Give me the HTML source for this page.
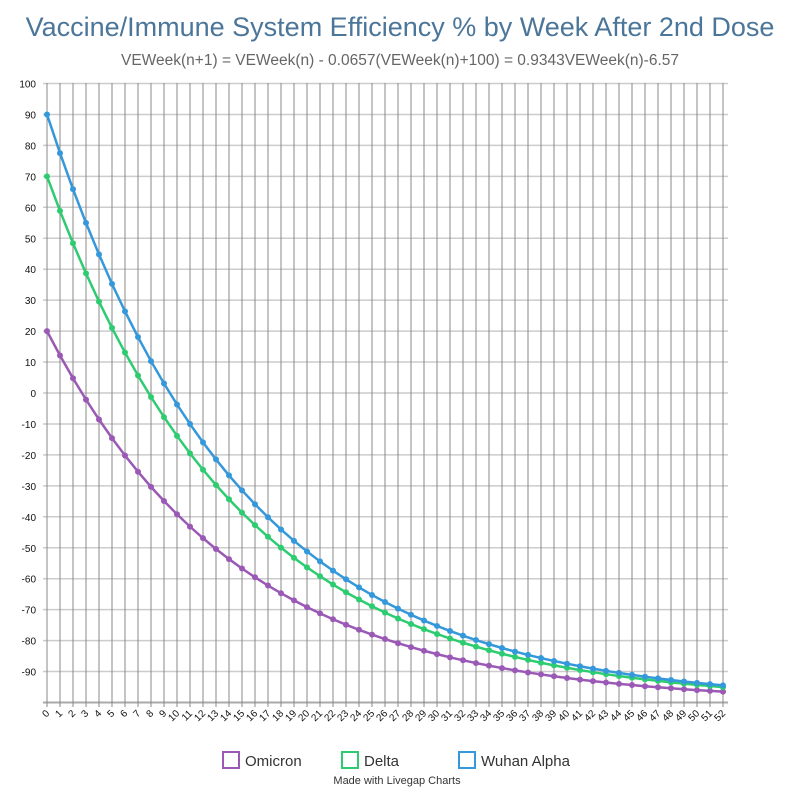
<!DOCTYPE html>
<html><head><meta charset="utf-8"><style>
body{margin:0;background:#fff;font-family:"Liberation Sans",sans-serif}
</style></head><body>
<svg id="s" width="800" height="800" xmlns="http://www.w3.org/2000/svg" font-family="Liberation Sans, sans-serif">
<text x="400" y="36" text-anchor="middle" font-size="27" fill="#4b7699">Vaccine/Immune System Efficiency % by Week After 2nd Dose</text>
<text x="400" y="65" text-anchor="middle" font-size="15.5" fill="#666">VEWeek(n+1) = VEWeek(n) - 0.0657(VEWeek(n)+100) = 0.9343VEWeek(n)-6.57</text>
<g id="g"></g>
<rect x="223" y="752" width="16" height="16" fill="none" stroke="#9b59b6" stroke-width="2"/>
<text x="245" y="766" font-size="15" fill="#333">Omicron</text>
<rect x="342" y="752" width="16" height="16" fill="none" stroke="#2ecc71" stroke-width="2"/>
<text x="364" y="766" font-size="15" fill="#333">Delta</text>
<rect x="459" y="752" width="16" height="16" fill="none" stroke="#3498db" stroke-width="2"/>
<text x="481" y="766" font-size="15" fill="#333">Wuhan Alpha</text>
<text x="397" y="784" text-anchor="middle" font-size="11" fill="#333">Made with Livegap Charts</text>
</svg>
<script>
var g=document.getElementById('g'),h='';
function X(n){return 47+n*13}
function Y(v){return 393-v*3.095}
for(var v=-100;v<=100;v+=10){var y=Y(v);h+='<line x1="43" x2="728" y1="'+y+'" y2="'+y+'" stroke="'+(v==-100?'#aaa':'#ccc')+'" stroke-width="'+(v==-100?2:1.5)+'"/>';
if(v>-100)h+='<text x="36" y="'+(y+4)+'" text-anchor="end" font-size="10" fill="#111">'+v+'</text>';}
for(var n=0;n<=52;n++){var x=X(n);h+='<line x1="'+x+'" x2="'+x+'" y1="83" y2="707" stroke="#888" stroke-width="1"/>';
h+='<text transform="translate('+(x+3)+',714) rotate(-45)" text-anchor="end" font-size="10" fill="#111">'+n+'</text>';}
[[20,'#9b59b6'],[70,'#2ecc71'],[90,'#3498db']].forEach(function(s){var v=s[0],p=[],c='';
for(var n=0;n<=52;n++){p.push(X(n)+','+Y(v));c+='<circle cx="'+X(n)+'" cy="'+Y(v)+'" r="3" fill="'+s[1]+'"/>';v=0.9343*v-6.57;}
h+='<polyline points="'+p.join(' ')+'" fill="none" stroke="'+s[1]+'" stroke-width="2.5"/>'+c;});
g.innerHTML=h;
</script>
</body></html>
